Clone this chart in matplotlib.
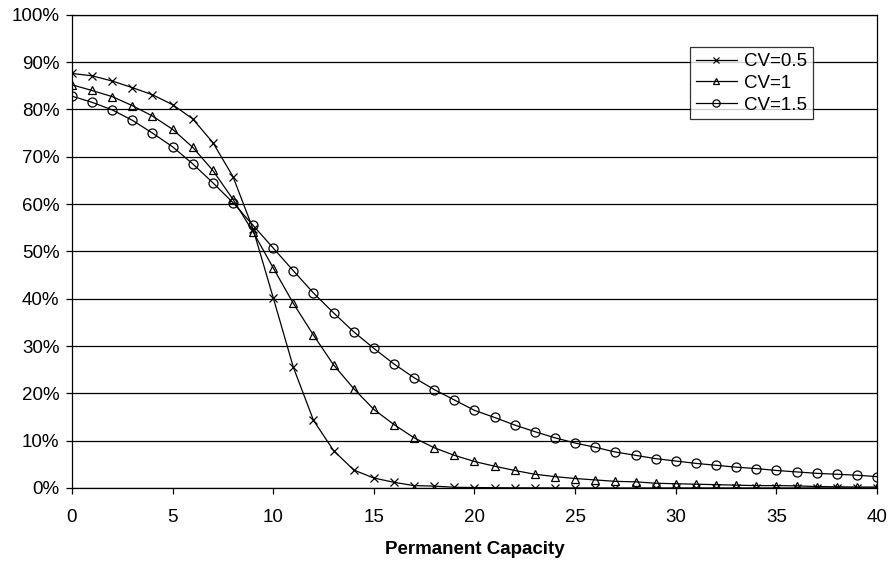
import numpy as np
import matplotlib.pyplot as plt

plt.rcParams['font.family'] = ['Liberation Sans', 'DejaVu Sans']

capacity = list(range(41))

cv05 = [87.6, 87.1, 86.0, 84.6, 83.1, 81.0, 78.0, 73.0, 65.8, 54.7,
        40.2, 25.5, 14.3, 7.9, 3.8, 2.1, 1.2, 0.5, 0.4, 0.15,
        0.1, 0.05, 0.03, 0.02, 0.01, 0.0, 0.0, 0.0, 0.0, 0.0,
        0.0, 0.0, 0.0, 0.0, 0.0, 0.0, 0.0, 0.0, 0.0, 0.0, 0.0]
cv10 = [85.2, 84.0, 82.7, 80.8, 78.6, 75.8, 72.0, 67.1, 61.0, 54.1,
        46.5, 39.0, 32.3, 26.0, 21.0, 16.6, 13.4, 10.6, 8.5, 6.9,
        5.6, 4.6, 3.7, 2.9, 2.4, 2.0, 1.7, 1.4, 1.3, 1.0,
        0.9, 0.8, 0.7, 0.6, 0.5, 0.5, 0.45, 0.3, 0.25, 0.2, 0.2]
cv15 = [82.8, 81.5, 79.9, 77.7, 75.0, 72.1, 68.5, 64.5, 60.3, 55.5,
        50.7, 45.9, 41.2, 37.0, 33.0, 29.5, 26.2, 23.3, 20.8, 18.6,
        16.4, 14.9, 13.3, 11.9, 10.6, 9.5, 8.6, 7.6, 6.9, 6.2,
        5.7, 5.2, 4.8, 4.4, 4.1, 3.7, 3.4, 3.1, 2.9, 2.7, 2.4]

fig = plt.figure(figsize=(8.93, 5.62), dpi=100)
ax = fig.add_axes([0.0806, 0.1317, 0.9015, 0.842])

ax.plot(capacity, cv05, color="black", linewidth=0.9, marker="x",
        markersize=5.5, markeredgewidth=0.9, label="CV=0.5")
ax.plot(capacity, cv10, color="black", linewidth=0.9, marker="^",
        markersize=6, markerfacecolor="none", markeredgewidth=0.9, label="CV=1")
ax.plot(capacity, cv15, color="black", linewidth=0.9, marker="o",
        markersize=6.5, markerfacecolor="none", markeredgewidth=0.9, label="CV=1.5")

ax.set_xlim(0, 40)
ax.set_ylim(0, 100)
ax.set_xticks(np.arange(0, 41, 5))
ax.set_yticks(np.arange(0, 101, 10))
ax.set_yticklabels([f"{v}%" for v in range(0, 101, 10)])
ax.yaxis.grid(True, color="black", linewidth=0.9)
ax.set_axisbelow(True)
ax.tick_params(axis="both", labelsize=13.5, length=4, width=0.9, direction="out")
ax.tick_params(axis="x", pad=11)
ax.tick_params(axis="y", pad=5)
for side in ax.spines:
    ax.spines[side].set_linewidth(0.9)

ax.set_xlabel("Permanent Capacity", fontsize=13.5, fontweight="bold", labelpad=11)

leg = ax.legend(loc="upper right", bbox_to_anchor=(0.9205, 0.931), fontsize=13.5,
                frameon=True, fancybox=False, edgecolor="black",
                handlelength=2.2, handletextpad=0.4, borderpad=0.3,
                labelspacing=0.25, borderaxespad=0, markerscale=0.8)
leg.get_frame().set_linewidth(0.9)

fig.savefig("out.png", dpi=100)
